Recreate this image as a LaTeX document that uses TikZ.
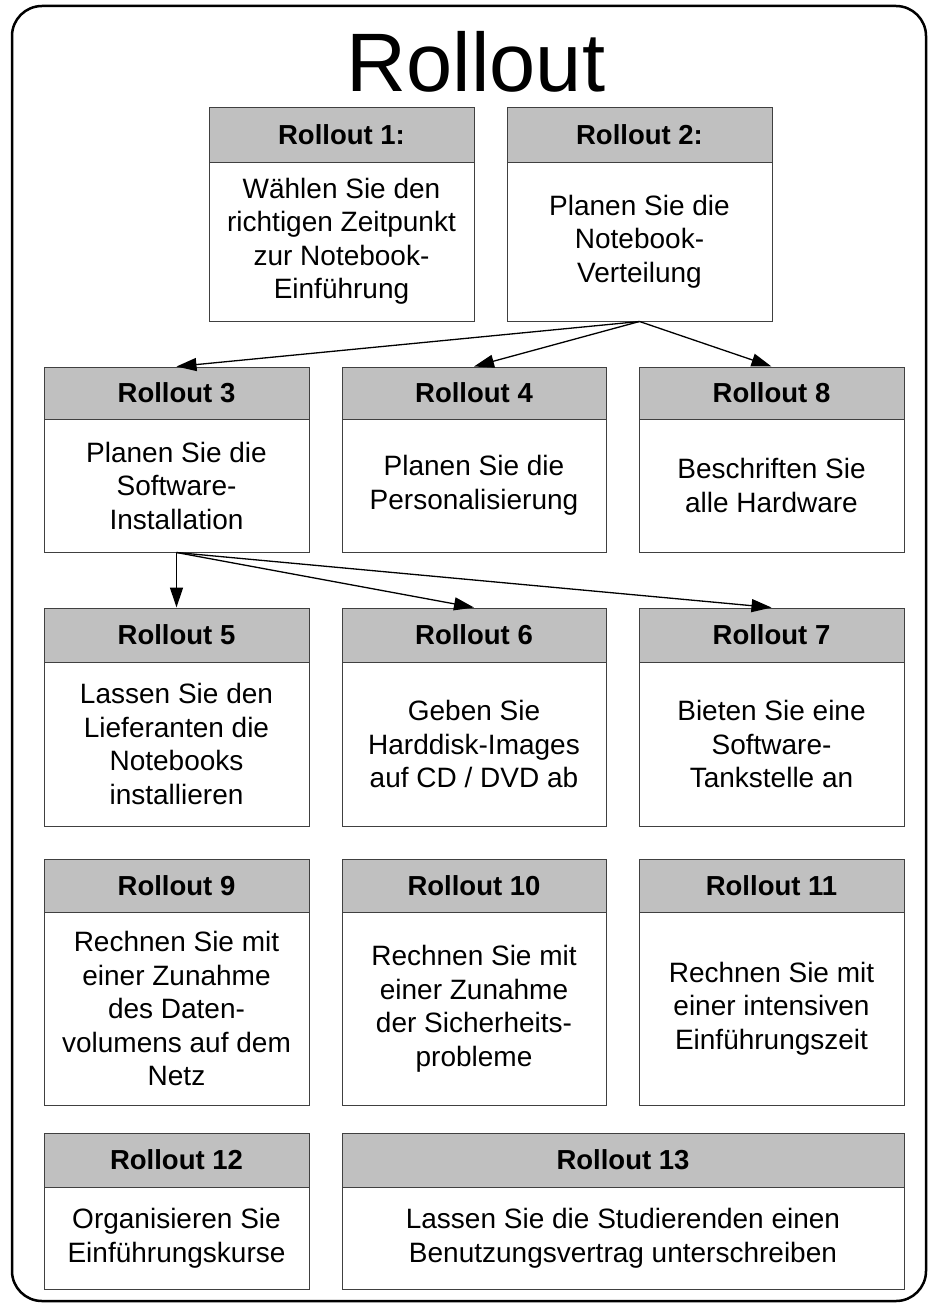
\documentclass[tikz,border=0pt]{standalone}
\usepackage{fontspec}
\setmainfont{Liberation Sans}
\usetikzlibrary{arrows.meta}
\definecolor{boxline}{HTML}{404040}
\definecolor{hdrgray}{HTML}{C0C0C0}
\tikzset{
  hdr/.style={draw=boxline, fill=hdrgray, line width=1pt, inner sep=0pt,
    font=\fontsize{27.5}{33}\selectfont\bfseries},
  bodybox/.style={draw=boxline, fill=white, line width=1pt, inner sep=0pt, align=center,
    font=\fontsize{28}{33.5}\selectfont},
  arr/.style={-{Triangle[length=20pt,width=13pt]}, line width=1.3pt, black},
  frame/.style={draw=black, line width=2.5pt, rounded corners=30pt},
  titletext/.style={font=\fontsize{83}{90}\selectfont, anchor=base, inner sep=0pt}
}
\newcommand\rbox[8]{%
  \node[hdr, minimum width={#3-#2}, minimum height={#5-#4}] (#1h) at ({(#2+#3)/2},{(#4+#5)/2}) {#7};
  \node[bodybox, minimum width={#3-#2}, minimum height={#6-#5}] (#1) at ({(#2+#3)/2},{(#5+#6)/2}) {#8};
}
\begin{document}
\begin{tikzpicture}[x=1pt,y=-1pt]
\useasboundingbox (0,0) rectangle (928,1303);
\draw[frame] (12,6) rectangle (926,1301);
\node[titletext] (title) at (476,92) {Rollout};
% row 1
\rbox{b1}{209}{474}{108}{162}{321}{Rollout 1:}{Wählen Sie den\\richtigen Zeitpunkt\\zur Notebook-\\Einführung}
\rbox{b2}{507}{772}{108}{162}{321}{Rollout 2:}{Planen Sie die\\Notebook-\\Verteilung}
% row 2
\rbox{b3}{44}{309}{367}{419}{552}{Rollout 3}{Planen Sie die\\Software-\\Installation}
\rbox{b4}{342}{606}{367}{419}{552}{Rollout 4}{Planen Sie die\\Personalisierung}
\rbox{b8}{639}{904}{367}{419}{552}{Rollout 8}{Beschriften Sie\\alle Hardware}
% row 3
\rbox{b5}{44}{309}{608}{662}{826}{Rollout 5}{Lassen Sie den\\Lieferanten die\\Notebooks\\installieren}
\rbox{b6}{342}{606}{608}{662}{826}{Rollout 6}{Geben Sie\\Harddisk-Images\\auf CD / DVD ab}
\rbox{b7}{639}{904}{608}{662}{826}{Rollout 7}{Bieten Sie eine\\Software-\\Tankstelle an}
% row 4
\rbox{b9}{44}{309}{859}{912}{1105}{Rollout 9}{Rechnen Sie mit\\einer Zunahme\\des Daten-\\volumens auf dem\\Netz}
\rbox{b10}{342}{606}{859}{912}{1105}{Rollout 10}{Rechnen Sie mit\\einer Zunahme\\der Sicherheits-\\probleme}
\rbox{b11}{639}{904}{859}{912}{1105}{Rollout 11}{Rechnen Sie mit\\einer intensiven\\Einführungszeit}
% row 5
\rbox{b12}{44}{309}{1133}{1187}{1289}{Rollout 12}{Organisieren Sie\\Einführungskurse}
\rbox{b13}{342}{904}{1133}{1187}{1289}{Rollout 13}{Lassen Sie die Studierenden einen\\Benutzungsvertrag unterschreiben}
% arrows
\draw[arr] (b2.south) -- (b3h.north);
\draw[arr] (b2.south) -- (b4h.north);
\draw[arr] (b2.south) -- (b8h.north);
\draw[arr] (b3.south) -- (b5h.north);
\draw[arr] (b3.south) -- (b6h.north);
\draw[arr] (b3.south) -- (b7h.north);
\end{tikzpicture}
\end{document}
